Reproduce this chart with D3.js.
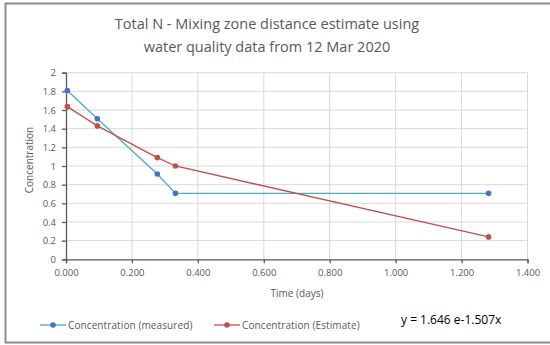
<!DOCTYPE html>
<html><head><meta charset="utf-8">
<script src="https://cdn.jsdelivr.net/npm/d3@7"></script>
<style>body{margin:0;background:#fff}svg{display:block}text{font-family:"Open Sans","Liberation Sans",sans-serif}</style>
</head><body><svg id="c" width="550" height="345"></svg>
<script>
const titleLines = ["Total N - Mixing zone distance estimate using", "water quality data from 12 Mar 2020"];
const timeMeasured = [0.004, 0.095, 0.277, 0.332, 1.282];
const concMeasured = [1.81, 1.507, 0.914, 0.707, 0.707];
const timeEstimate = [0.004, 0.095, 0.277, 0.332, 1.282];
const concEstimate = [1.636, 1.43, 1.09, 1.0, 0.24];
const xTicks = [0, 0.2, 0.4, 0.6, 0.8, 1.0, 1.2, 1.4];
const yTicks = [0, 0.2, 0.4, 0.6, 0.8, 1, 1.2, 1.4, 1.6, 1.8, 2];
const seriesNames = ["Concentration (measured)", "Concentration (Estimate)"];
const equation = "y = 1.646 e-1.507x";

const svg = d3.select("#c");
svg.append("rect").attr("x",5.5).attr("y",3.5).attr("width",560).attr("height",339)
  .attr("fill","none").attr("stroke","#8c8c8c").attr("stroke-width",2);

const x = d3.scaleLinear().domain([0,1.4]).range([66,527.5]);
const y = d3.scaleLinear().domain([0,2]).range([259.3,72.7]);

// title
svg.append("g").selectAll("text").data(titleLines).join("text")
  .attr("x",267).attr("y",(d,i)=>29+i*23).attr("text-anchor","middle")
  .attr("font-size",14.5).attr("fill","#595959").text(d=>d);

// grid
const g = svg.append("g");
g.selectAll(".hg").data(yTicks.slice(1)).join("line")
  .attr("x1",x(0)).attr("x2",x(1.4)).attr("y1",d=>y(d)).attr("y2",d=>y(d))
  .attr("stroke","#d9d9d9").attr("stroke-width",1);
g.selectAll(".vg").data(xTicks.slice(1)).join("line")
  .attr("y1",y(0)).attr("y2",y(2)).attr("x1",d=>x(d)).attr("x2",d=>x(d))
  .attr("stroke","#d9d9d9").attr("stroke-width",1);

// axes
const xa = svg.append("g").attr("transform",`translate(0,${y(0)})`)
  .call(d3.axisBottom(x).tickValues(xTicks).tickFormat(d3.format(".3f")).tickSizeOuter(0).tickSize(4));
const ya = svg.append("g").attr("transform",`translate(${x(0)},0)`)
  .call(d3.axisLeft(y).tickValues(yTicks).tickFormat(d=>d3.format("")(d)).tickSizeOuter(0).tickSize(4));
[xa,ya].forEach(a=>{
  a.selectAll("path,line").attr("stroke","#595959").attr("stroke-width",1.3);
  a.selectAll("text").attr("fill","#595959").attr("font-size",9.5).attr("font-family",'"Open Sans","Liberation Sans",sans-serif');
});
xa.selectAll("text").attr("y",10).attr("dy","0.71em");
ya.selectAll("text").attr("x",-10);

svg.append("text").attr("x",297).attr("y",297).attr("text-anchor","middle")
  .attr("font-size",10).attr("fill","#595959").text("Time (days)");
svg.append("text").attr("transform","translate(33,160) rotate(-90)").attr("text-anchor","middle")
  .attr("font-size",10).attr("fill","#595959").text("Concentration");

const series = [
  {t: timeMeasured, c: concMeasured, line:"#4bacc6", mark:"#4472c4"},
  {t: timeEstimate, c: concEstimate, line:"#c0504d", mark:"#c0504d"}
];
const lineGen = d3.line().x(d=>x(d[0])).y(d=>y(d[1]));
series.forEach(s=>{
  const pts = s.t.map((t,i)=>[t,s.c[i]]);
  svg.append("path").attr("d",lineGen(pts)).attr("fill","none").attr("stroke",s.line).attr("stroke-width",1.3);
  svg.append("g").selectAll("circle").data(pts).join("circle")
    .attr("cx",d=>x(d[0])).attr("cy",d=>y(d[1])).attr("r",2.8).attr("fill",s.mark);
});

// legend
const legX = [40, 214];
series.forEach((s,i)=>{
  const lg = svg.append("g");
  lg.append("line").attr("x1",legX[i]).attr("x2",legX[i]+26).attr("y1",325).attr("y2",325)
    .attr("stroke",s.line).attr("stroke-width",1.3);
  lg.append("circle").attr("cx",legX[i]+13).attr("cy",325).attr("r",2.8).attr("fill",s.mark);
  lg.append("text").attr("x",legX[i]+28).attr("y",328.5).attr("font-size",10).attr("letter-spacing",0.1).attr("fill","#595959").text(seriesNames[i]);
});
svg.append("text").attr("x",401).attr("y",324).attr("font-size",12).attr("fill","#000").text(equation);
</script></body></html>
